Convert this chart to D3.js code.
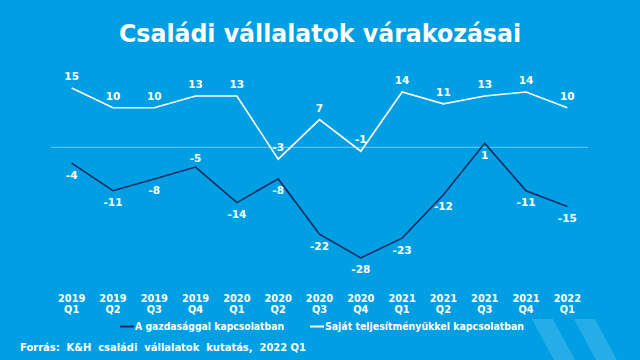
<!DOCTYPE html>
<html><head><meta charset="utf-8">
<script src="https://cdn.jsdelivr.net/npm/d3@7"></script>
<style>
html,body{margin:0;padding:0;background:#009FE3;}
svg{display:block;}
text{font-family:"DejaVu Sans",Verdana,sans-serif;font-weight:bold;fill:#fff;}
</style></head>
<body>
<script>
const years = ["2019","2019","2019","2019","2020","2020","2020","2020","2021","2021","2021","2021","2022"];
const quarters = ["Q1","Q2","Q3","Q4","Q1","Q2","Q3","Q4","Q1","Q2","Q3","Q4","Q1"];
const economy = [-4,-11,-8,-5,-14,-8,-22,-28,-23,-12,1,-11,-15];
const own = [15,10,10,13,13,-3,7,-1,14,11,13,14,10];
const seriesNames = ["A gazdasággal kapcsolatban","Saját teljesítményükkel kapcsolatban"];
const economyLabelAbove = [false,false,false,true,false,false,false,false,false,false,false,false,false];
const title = "Családi vállalatok várakozásai";
const source = "Forrás:  K&H  családi  vállalatok  kutatás,  2022 Q1";

const W=640,H=360;
const bg="#009FE3", dark="#0B2A61", zeroCol="#6CCBF2";
const svg=d3.select("body").append("svg").attr("width",W).attr("height",H);
svg.append("rect").attr("width",W).attr("height",H).attr("fill",bg);

// decorative chevrons
const chev=(x0)=>`M${x0},319 L${x0+21},319 L${x0+44},362 L${x0+21},405 L${x0},405 L${x0+23},362 Z`;
[532,574].forEach(x0=>svg.append("path").attr("d",chev(x0)).attr("fill","#fff").attr("opacity",0.15));

const idx=d3.range(years.length);
const x=d3.scalePoint().domain(idx).range([51,588]).padding(0.5);
const y=d3.scaleLinear().domain([-30,20]).range([265.8,68.3]);

// title
svg.append("text").attr("x",320).attr("y",42).attr("text-anchor","middle")
  .attr("font-size",24).attr("textLength",402).attr("lengthAdjust","spacingAndGlyphs").text(title);

// zero line
svg.append("line").attr("x1",51).attr("x2",588).attr("y1",y(0)).attr("y2",y(0))
  .attr("stroke",zeroCol).attr("stroke-width",1);

const line=d3.line().x((d,i)=>x(i)).y(d=>y(d));
svg.append("path").datum(own).attr("d",line).attr("fill","none").attr("stroke","#fff").attr("stroke-width",1.6);
svg.append("path").datum(economy).attr("d",line).attr("fill","none").attr("stroke",dark).attr("stroke-width",1.6);

// labels
svg.append("g").selectAll("text").data(own).join("text")
  .attr("x",(d,i)=>x(i)).attr("y",d=>y(d)-8).attr("text-anchor","middle").attr("font-size",10.5).text(d=>d);
svg.append("g").selectAll("text").data(economy).join("text")
  .attr("x",(d,i)=>x(i)).attr("y",(d,i)=>economyLabelAbove[i]? y(d)-5 : y(d)+15.5)
  .attr("text-anchor","middle").attr("font-size",10.5).text(d=>d);

// x axis labels
const xa=svg.append("g");
xa.selectAll("text.yr").data(idx).join("text").attr("class","yr")
  .attr("x",i=>x(i)).attr("y",301.5).attr("text-anchor","middle").attr("font-size",9.8).text(i=>years[i]);
xa.selectAll("text.q").data(idx).join("text").attr("class","q")
  .attr("x",i=>x(i)).attr("y",312.8).attr("text-anchor","middle").attr("font-size",9.8).text(i=>quarters[i]);

// legend
const leg=[{x:120,col:dark,name:seriesNames[0],w:149},{x:310,col:"#fff",name:seriesNames[1],w:199}];
leg.forEach(l=>{
  svg.append("line").attr("x1",l.x).attr("x2",l.x+14).attr("y1",326.5).attr("y2",326.5).attr("stroke",l.col).attr("stroke-width",2);
  svg.append("text").attr("x",l.x+15).attr("y",330).attr("font-size",10)
    .attr("textLength",l.w).attr("lengthAdjust","spacingAndGlyphs").text(l.name);
});

// source
svg.append("text").attr("x",20).attr("y",351).attr("font-size",10.8).attr("xml:space","preserve")
  .style("white-space","pre").attr("textLength",286).attr("lengthAdjust","spacingAndGlyphs").text(source);
</script>
</body></html>
